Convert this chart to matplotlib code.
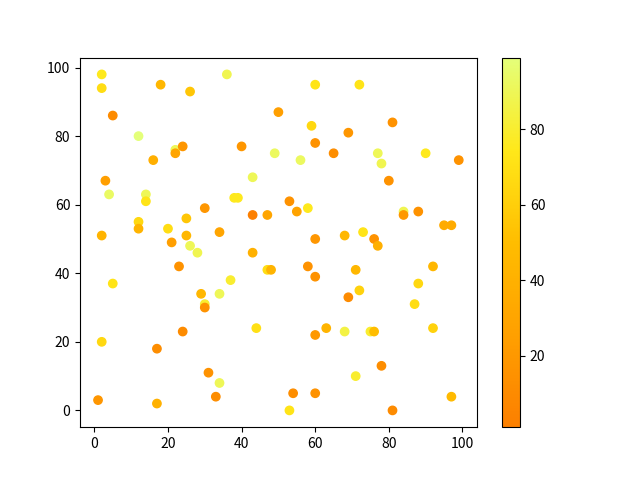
import matplotlib
matplotlib.use("Agg")
import matplotlib.pyplot as plt

plt.rcParams["font.family"] = ["Noto Sans CJK SC", "DejaVu Sans"]

# point positions
x = [2, 2, 18, 26, 36, 5, 50, 12, 22, 22,
     24, 40, 49, 16, 43, 3, 4, 14, 14, 38,
     39, 30, 43, 47, 12, 12, 25, 20, 25, 34,
     2, 21, 60, 72, 81, 59, 69, 60, 56, 65,
     77, 78, 90, 99, 80, 53, 58, 55, 84, 84,
     88, 95, 97, 60, 68, 73, 76, 26, 28, 43,
     23, 47, 48, 5, 37, 29, 34, 30, 30, 44,
     24, 2, 17, 31, 34, 33, 1, 17, 77, 58,
     60, 71, 92, 88, 72, 69, 87, 63, 60, 68,
     75, 76, 92, 78, 71, 54, 60, 53, 81, 97]
y = [98, 94, 95, 93, 98, 86, 87, 80, 76, 75,
     77, 77, 75, 73, 68, 67, 63, 63, 61, 62,
     62, 59, 57, 57, 55, 53, 56, 53, 51, 52,
     51, 49, 95, 95, 84, 83, 81, 78, 73, 75,
     75, 72, 75, 73, 67, 61, 59, 58, 58, 57,
     58, 54, 54, 50, 51, 52, 50, 48, 46, 46,
     42, 41, 41, 37, 38, 34, 34, 31, 30, 24,
     23, 20, 18, 11, 8, 4, 3, 2, 48, 42,
     39, 41, 42, 37, 35, 33, 31, 24, 22, 23,
     23, 23, 24, 13, 10, 5, 5, 0, 0, 4]
# colour values (estimated from the colormap)
c = [75, 68, 45, 55, 88, 10, 25, 99, 90, 30,
     18, 18, 92, 38, 90, 25, 93, 90, 72, 75,
     75, 18, 1, 30, 65, 42, 55, 68, 45, 30,
     42, 25, 72, 72, 15, 65, 18, 15, 92, 12,
     90, 88, 75, 15, 15, 15, 75, 28, 88, 20,
     15, 35, 35, 18, 45, 72, 15, 90, 88, 40,
     15, 68, 42, 72, 80, 45, 90, 80, 15, 70,
     10, 65, 12, 15, 90, 12, 18, 40, 38, 15,
     15, 45, 45, 65, 62, 10, 68, 42, 20, 85,
     80, 50, 62, 12, 80, 12, 15, 72, 10, 48]

fig, ax = plt.subplots(figsize=(6.4, 4.8), dpi=100)
sc = ax.scatter(x, y, c=c, cmap="Wistia_r")
fig.colorbar(sc, ax=ax)

fig.savefig("out.png")
